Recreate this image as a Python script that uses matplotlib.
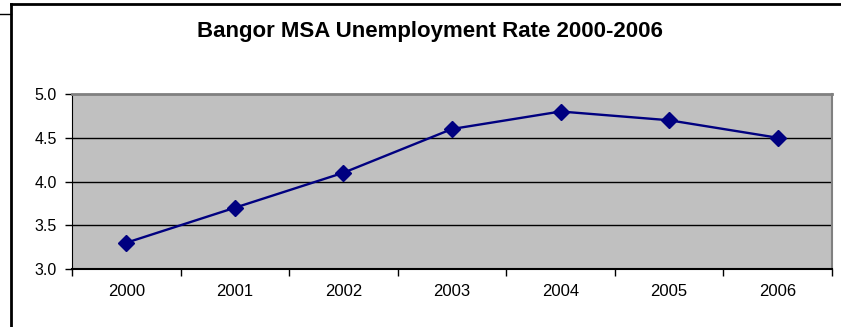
import numpy as np
import matplotlib
matplotlib.use("Agg")
import matplotlib.pyplot as plt
from matplotlib.lines import Line2D

# data
years = ['2000', '2001', '2002', '2003', '2004', '2005', '2006']
rate = [3.3, 3.7, 4.1, 4.6, 4.8, 4.7, 4.5]
y_ticks = [3.0, 3.5, 4.0, 4.5, 5.0]

plt.rcParams['font.family'] = ['Liberation Sans', 'DejaVu Sans']

W, H = 841, 327
fig = plt.figure(figsize=(W / 100, H / 100), dpi=100)

# frame of the chart (partly cut off in the original)
fig.add_artist(Line2D([10.5 / W, 10.5 / W], [0, 1 - 4 / H], color='black', lw=2))
fig.add_artist(Line2D([10.5 / W, 1], [1 - 4 / H, 1 - 4 / H], color='black', lw=2))
fig.add_artist(Line2D([0, 10.5 / W], [1 - 13.5 / H, 1 - 13.5 / H], color='black', lw=1))

ax = fig.add_axes([72 / W, (H - 269) / H, (832 - 72) / W, (269 - 94) / H])
ax.set_facecolor('#C0C0C0')

x = np.arange(len(years))
ax.plot(x, rate, color='#000080', lw=1.7, marker='D', markersize=8,
        markeredgecolor='#000080', markerfacecolor='#000080', zorder=3)

ax.set_xlim(-0.5, len(years) - 0.5)
ax.set_ylim(3.0, 5.0)
ax.set_yticks(y_ticks)
ax.set_yticklabels([f'{v:.1f}' for v in y_ticks])
for v in y_ticks[1:-1]:
    ax.axhline(v, color='black', lw=1, zorder=1)

# ticks at category boundaries, labels in the middle
ax.set_xticks(np.arange(len(years) + 1) - 0.5)
ax.set_xticklabels([])
ax.set_xticks(x, minor=True)
ax.set_xticklabels(years, minor=True)
ax.tick_params(axis='x', which='major', direction='out', length=5, width=1)
ax.tick_params(axis='x', which='minor', length=0, pad=11, labelsize=12)
ax.tick_params(axis='y', direction='out', length=5, width=1, pad=6, labelsize=11.5)

ax.spines['top'].set_color('#808080')
ax.spines['right'].set_color('#808080')
ax.spines['top'].set_linewidth(2)
ax.spines['right'].set_linewidth(1.5)
ax.spines['left'].set_color('black')
ax.spines['bottom'].set_color('black')
ax.spines['bottom'].set_linewidth(1.5)

fig.text(430 / W, 1 - 31 / H, 'Bangor MSA Unemployment Rate 2000-2006',
         ha='center', va='center', fontsize=16, fontweight='bold')

fig.savefig('out.png', dpi=100)
